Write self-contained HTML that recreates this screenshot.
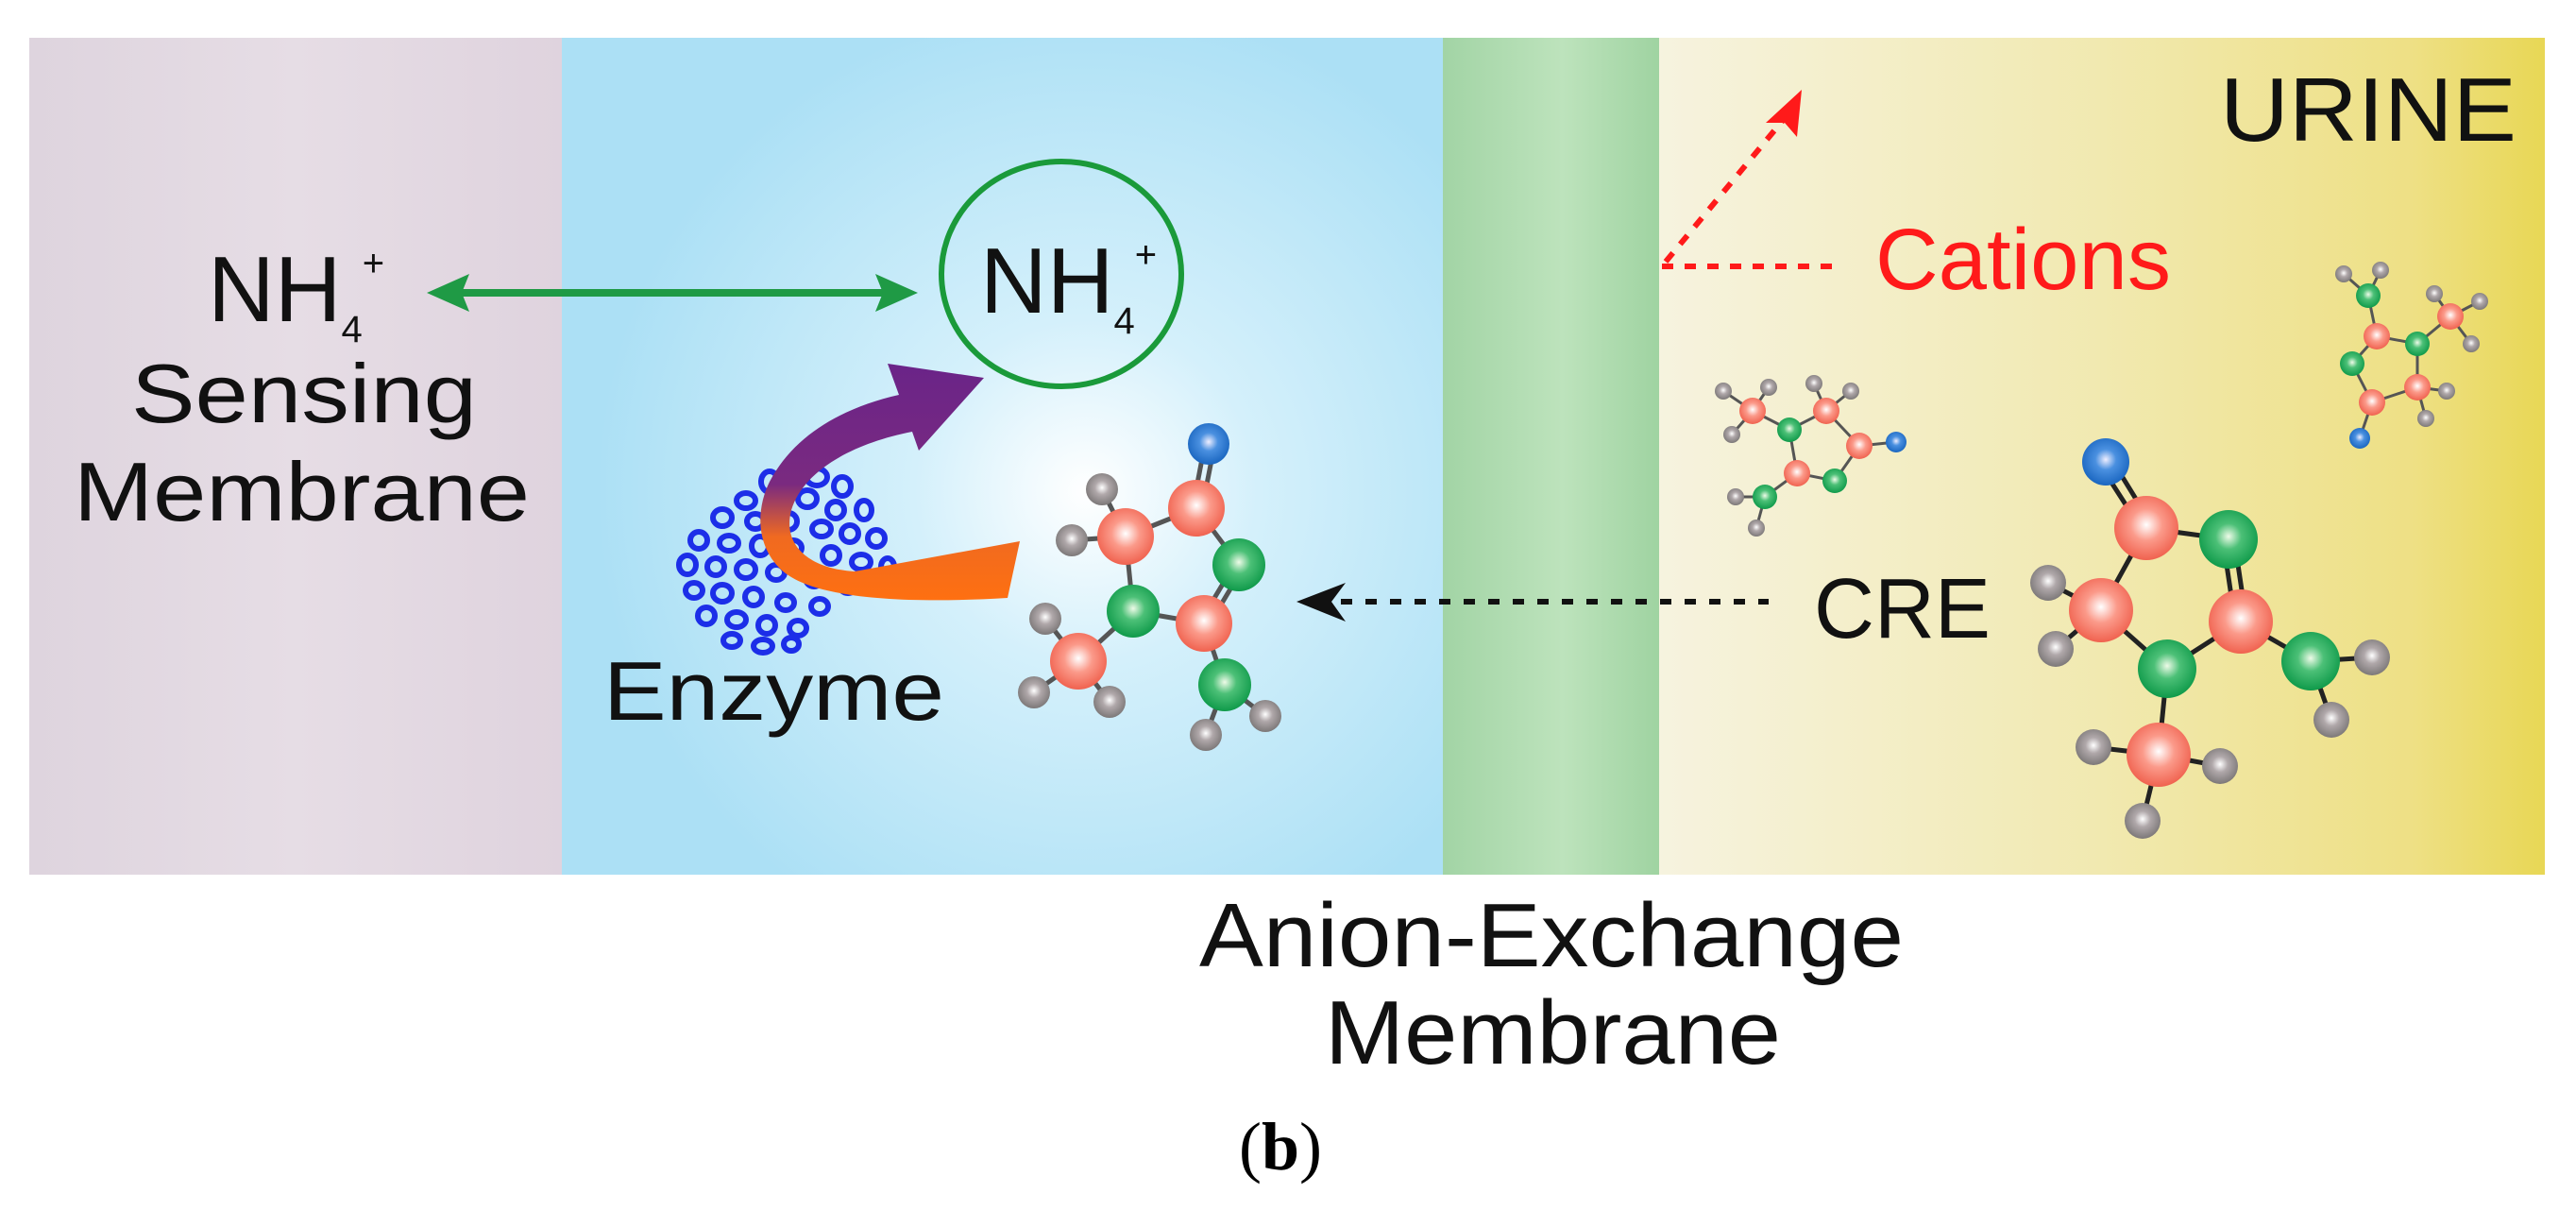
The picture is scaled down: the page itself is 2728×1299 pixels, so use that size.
<!DOCTYPE html>
<html><head><meta charset="utf-8"><style>html,body{margin:0;padding:0;background:#fff}svg{display:block}</style></head>
<body>
<svg xmlns="http://www.w3.org/2000/svg" width="2728" height="1299" viewBox="0 0 2728 1299">
<defs>
<linearGradient id="purp" x1="0" y1="0" x2="1" y2="0"><stop offset="0" stop-color="#ded4de"/><stop offset="0.5" stop-color="#e6dde5"/><stop offset="1" stop-color="#dfd3de"/></linearGradient>
<radialGradient id="blue" cx="1150" cy="520" r="520" gradientUnits="userSpaceOnUse"><stop offset="0" stop-color="#ffffff"/><stop offset="0.35" stop-color="#d4f0fb"/><stop offset="1" stop-color="#ace0f5"/></radialGradient>
<linearGradient id="grn" x1="0" y1="0" x2="1" y2="0"><stop offset="0" stop-color="#a2d4a5"/><stop offset="0.55" stop-color="#bde3bc"/><stop offset="1" stop-color="#9fd3a1"/></linearGradient>
<linearGradient id="yel" x1="0" y1="0" x2="1" y2="0"><stop offset="0" stop-color="#f6f3df"/><stop offset="0.5" stop-color="#f1e9b0"/><stop offset="0.85" stop-color="#eee085"/><stop offset="1" stop-color="#e8d755"/></linearGradient>
<linearGradient id="arr" x1="0" y1="385" x2="0" y2="640" gradientUnits="userSpaceOnUse"><stop offset="0" stop-color="#6a2488"/><stop offset="0.5" stop-color="#7a2a80"/><stop offset="0.72" stop-color="#f06a20"/><stop offset="1" stop-color="#ff7010"/></linearGradient>
<radialGradient id="aR" cx="0.5" cy="0.45" r="0.55"><stop offset="0" stop-color="#fff"/><stop offset="0.45" stop-color="#fb9a8a"/><stop offset="1" stop-color="#f0624f"/></radialGradient>
<radialGradient id="aG" cx="0.5" cy="0.45" r="0.55"><stop offset="0" stop-color="#eefbe8"/><stop offset="0.4" stop-color="#4cc077"/><stop offset="1" stop-color="#0f9a4a"/></radialGradient>
<radialGradient id="aK" cx="0.5" cy="0.45" r="0.55"><stop offset="0" stop-color="#fff"/><stop offset="0.4" stop-color="#b0a8aa"/><stop offset="1" stop-color="#7c7878"/></radialGradient>
<radialGradient id="aB" cx="0.5" cy="0.45" r="0.55"><stop offset="0" stop-color="#eef"/><stop offset="0.4" stop-color="#4a90e0"/><stop offset="1" stop-color="#1a66c0"/></radialGradient>
</defs>

<rect x="31" y="40" width="564" height="886" fill="url(#purp)"/>
<rect x="595" y="40" width="935" height="886" fill="url(#blue)"/>
<rect x="1528" y="40" width="230" height="886" fill="url(#grn)"/>
<rect x="1757" y="40" width="938" height="886" fill="url(#yel)"/>

<g font-family="Liberation Sans, sans-serif" fill="#111">
<text x="220" y="340" font-size="98">NH<tspan font-size="40" dy="22">4</tspan><tspan font-size="40" dy="-70">+</tspan></text>
<text x="139" y="447" font-size="88" textLength="366" lengthAdjust="spacingAndGlyphs">Sensing</text>
<text x="78" y="551" font-size="88" textLength="483" lengthAdjust="spacingAndGlyphs">Membrane</text>
<text x="1038" y="331" font-size="98">NH<tspan font-size="40" dy="22">4</tspan><tspan font-size="40" dy="-70">+</tspan></text>
<text x="639" y="762" font-size="88" textLength="361" lengthAdjust="spacingAndGlyphs">Enzyme</text>
<text x="2351" y="149" font-size="96" textLength="314" lengthAdjust="spacingAndGlyphs">URINE</text>
<text x="1921" y="675" font-size="90" textLength="187" lengthAdjust="spacingAndGlyphs">CRE</text>
<text x="1986" y="306" font-size="92" fill="#ff1a1a" textLength="313" lengthAdjust="spacingAndGlyphs">Cations</text>
<text x="1270" y="1023" font-size="96" textLength="746" lengthAdjust="spacingAndGlyphs">Anion-Exchange</text>
<text x="1403" y="1126" font-size="96" textLength="483" lengthAdjust="spacingAndGlyphs">Membrane</text>
</g>
<text x="1312" y="1238" font-family="Liberation Serif, serif" font-size="72" fill="#000">(<tspan font-weight="bold">b</tspan>)</text>

<line x1="485" y1="310" x2="935" y2="310" stroke="#1f9a45" stroke-width="8"/>
<polygon points="452,310 497,290 489,310 497,330" fill="#1f9a45"/>
<polygon points="972,310 927,290 935,310 927,330" fill="#1f9a45"/>
<ellipse cx="1124" cy="290" rx="127" ry="119" fill="none" stroke="#1a9a3a" stroke-width="6"/>

<!-- enzyme scribble -->
<g fill="none" stroke="#1c2ee8" stroke-width="6">
<ellipse cx="840" cy="495" rx="10" ry="8"/><ellipse cx="815" cy="510" rx="9" ry="11"/><ellipse cx="865" cy="505" rx="11" ry="9"/><ellipse cx="892" cy="515" rx="9" ry="10"/>
<ellipse cx="790" cy="530" rx="10" ry="8"/><ellipse cx="825" cy="530" rx="9" ry="8"/><ellipse cx="855" cy="528" rx="10" ry="9"/><ellipse cx="885" cy="540" rx="9" ry="9"/><ellipse cx="915" cy="540" rx="8" ry="10"/>
<ellipse cx="765" cy="548" rx="10" ry="9"/><ellipse cx="800" cy="552" rx="9" ry="8"/><ellipse cx="835" cy="552" rx="9" ry="9"/><ellipse cx="870" cy="560" rx="10" ry="8"/><ellipse cx="900" cy="565" rx="9" ry="9"/><ellipse cx="928" cy="570" rx="9" ry="9"/>
<ellipse cx="740" cy="572" rx="9" ry="9"/><ellipse cx="772" cy="575" rx="10" ry="8"/><ellipse cx="805" cy="578" rx="9" ry="10"/><ellipse cx="840" cy="580" rx="9" ry="8"/><ellipse cx="880" cy="588" rx="9" ry="9"/><ellipse cx="912" cy="595" rx="10" ry="8"/><ellipse cx="940" cy="600" rx="7" ry="9"/>
<ellipse cx="728" cy="598" rx="9" ry="10"/><ellipse cx="758" cy="600" rx="9" ry="9"/><ellipse cx="790" cy="603" rx="10" ry="9"/><ellipse cx="822" cy="606" rx="9" ry="8"/><ellipse cx="862" cy="612" rx="9" ry="9"/><ellipse cx="898" cy="620" rx="9" ry="8"/>
<ellipse cx="735" cy="625" rx="9" ry="8"/><ellipse cx="765" cy="628" rx="10" ry="9"/><ellipse cx="798" cy="632" rx="9" ry="9"/><ellipse cx="832" cy="638" rx="9" ry="8"/><ellipse cx="868" cy="642" rx="9" ry="8"/>
<ellipse cx="748" cy="652" rx="9" ry="9"/><ellipse cx="780" cy="656" rx="10" ry="8"/><ellipse cx="812" cy="662" rx="9" ry="9"/><ellipse cx="845" cy="665" rx="9" ry="8"/>
<ellipse cx="775" cy="678" rx="9" ry="7"/><ellipse cx="808" cy="684" rx="10" ry="7"/><ellipse cx="838" cy="682" rx="8" ry="7"/>
</g>
<path d="M940,385 L1042,400 L973,477 L966,457 C900,470 850,500 838,540 C828,578 858,602 905,605 L1080,573 L1067,633 C950,640 865,632 832,607 C800,582 800,540 815,510 C840,462 890,432 952,418 Z" fill="url(#arr)"/>

<line x1="1420" y1="637" x2="1873" y2="637" stroke="#111" stroke-width="6" stroke-dasharray="12,14"/>
<polygon points="1373,637 1425,617 1410,637 1425,658" fill="#111"/>
<line x1="1760" y1="282" x2="1951" y2="282" stroke="#ff1a1a" stroke-width="6" stroke-dasharray="12,12"/>
<line x1="1764" y1="277" x2="1890" y2="125" stroke="#ff1a1a" stroke-width="6" stroke-dasharray="12,12"/>
<polygon points="1908,95 1903,145 1890,130 1870,130" fill="#ff1a1a"/>

<g stroke="#555" stroke-width="5">
<line x1="1276" y1="470" x2="1263" y2="538"/><line x1="1286" y1="472" x2="1273" y2="538"/>
<line x1="1267" y1="538" x2="1192" y2="568"/><line x1="1192" y1="568" x2="1167" y2="518"/><line x1="1192" y1="568" x2="1135" y2="572"/>
<line x1="1267" y1="538" x2="1312" y2="598"/><line x1="1192" y1="568" x2="1200" y2="647"/>
<line x1="1307" y1="598" x2="1270" y2="660"/><line x1="1317" y1="600" x2="1280" y2="662"/>
<line x1="1200" y1="647" x2="1275" y2="660"/><line x1="1200" y1="647" x2="1142" y2="700"/>
<line x1="1142" y1="700" x2="1107" y2="655"/><line x1="1142" y1="700" x2="1095" y2="733"/><line x1="1142" y1="700" x2="1175" y2="743"/>
<line x1="1275" y1="660" x2="1297" y2="725"/><line x1="1297" y1="725" x2="1277" y2="778"/><line x1="1297" y1="725" x2="1340" y2="758"/>
</g>
<g>
<circle cx="1280" cy="470" r="22" fill="url(#aB)"/>
<circle cx="1167" cy="518" r="17" fill="url(#aK)"/><circle cx="1135" cy="572" r="17" fill="url(#aK)"/>
<circle cx="1107" cy="655" r="17" fill="url(#aK)"/><circle cx="1095" cy="733" r="17" fill="url(#aK)"/><circle cx="1175" cy="743" r="17" fill="url(#aK)"/>
<circle cx="1277" cy="778" r="17" fill="url(#aK)"/><circle cx="1340" cy="758" r="17" fill="url(#aK)"/>
<circle cx="1267" cy="538" r="30" fill="url(#aR)"/><circle cx="1192" cy="568" r="30" fill="url(#aR)"/>
<circle cx="1275" cy="660" r="30" fill="url(#aR)"/><circle cx="1142" cy="700" r="30" fill="url(#aR)"/>
<circle cx="1312" cy="598" r="28" fill="url(#aG)"/><circle cx="1200" cy="647" r="28" fill="url(#aG)"/><circle cx="1297" cy="725" r="28" fill="url(#aG)"/>
</g>

<g stroke="#222" stroke-width="5">
<line x1="2224" y1="492" x2="2267" y2="559"/><line x1="2236" y1="486" x2="2279" y2="556"/>
<line x1="2273" y1="559" x2="2360" y2="571"/><line x1="2273" y1="559" x2="2225" y2="646"/>
<line x1="2354" y1="571" x2="2367" y2="658"/><line x1="2366" y1="571" x2="2379" y2="658"/>
<line x1="2225" y1="646" x2="2295" y2="708"/><line x1="2295" y1="708" x2="2373" y2="658"/>
<line x1="2373" y1="658" x2="2447" y2="700"/><line x1="2295" y1="708" x2="2286" y2="799"/>
<line x1="2225" y1="646" x2="2169" y2="617"/><line x1="2225" y1="646" x2="2177" y2="687"/>
<line x1="2447" y1="700" x2="2512" y2="696"/><line x1="2447" y1="700" x2="2469" y2="762"/>
<line x1="2286" y1="799" x2="2217" y2="791"/><line x1="2286" y1="799" x2="2351" y2="811"/><line x1="2286" y1="799" x2="2269" y2="869"/>
</g>
<g>
<circle cx="2230" cy="489" r="25" fill="url(#aB)"/>
<circle cx="2169" cy="617" r="19" fill="url(#aK)"/><circle cx="2177" cy="687" r="19" fill="url(#aK)"/>
<circle cx="2512" cy="696" r="19" fill="url(#aK)"/><circle cx="2469" cy="762" r="19" fill="url(#aK)"/>
<circle cx="2217" cy="791" r="19" fill="url(#aK)"/><circle cx="2351" cy="811" r="19" fill="url(#aK)"/><circle cx="2269" cy="869" r="19" fill="url(#aK)"/>
<circle cx="2273" cy="559" r="34" fill="url(#aR)"/><circle cx="2225" cy="646" r="34" fill="url(#aR)"/>
<circle cx="2373" cy="658" r="34" fill="url(#aR)"/><circle cx="2286" cy="799" r="34" fill="url(#aR)"/>
<circle cx="2360" cy="571" r="31" fill="url(#aG)"/><circle cx="2295" cy="708" r="31" fill="url(#aG)"/><circle cx="2447" cy="700" r="31" fill="url(#aG)"/>
</g>

<g stroke="#555" stroke-width="3">
<line x1="1856" y1="435" x2="1895" y2="455"/><line x1="1895" y1="455" x2="1934" y2="435"/><line x1="1934" y1="435" x2="1969" y2="472"/>
<line x1="1969" y1="472" x2="1943" y2="509"/><line x1="1943" y1="509" x2="1903" y2="501"/><line x1="1903" y1="501" x2="1895" y2="455"/>
<line x1="1903" y1="501" x2="1869" y2="526"/><line x1="1969" y1="472" x2="2008" y2="468"/>
<line x1="1856" y1="435" x2="1825" y2="414"/><line x1="1856" y1="435" x2="1873" y2="410"/><line x1="1856" y1="435" x2="1834" y2="460"/>
<line x1="1934" y1="435" x2="1921" y2="406"/><line x1="1934" y1="435" x2="1960" y2="414"/>
<line x1="1869" y1="526" x2="1838" y2="526"/><line x1="1869" y1="526" x2="1860" y2="559"/>
</g>
<g>
<circle cx="1825" cy="414" r="9" fill="url(#aK)"/><circle cx="1873" cy="410" r="9" fill="url(#aK)"/><circle cx="1921" cy="406" r="9" fill="url(#aK)"/>
<circle cx="1960" cy="414" r="9" fill="url(#aK)"/><circle cx="1834" cy="460" r="9" fill="url(#aK)"/><circle cx="1838" cy="526" r="9" fill="url(#aK)"/><circle cx="1860" cy="559" r="9" fill="url(#aK)"/>
<circle cx="1856" cy="435" r="14" fill="url(#aR)"/><circle cx="1934" cy="435" r="14" fill="url(#aR)"/><circle cx="1969" cy="472" r="14" fill="url(#aR)"/><circle cx="1903" cy="501" r="14" fill="url(#aR)"/>
<circle cx="1895" cy="455" r="13" fill="url(#aG)"/><circle cx="1943" cy="509" r="13" fill="url(#aG)"/><circle cx="1869" cy="526" r="13" fill="url(#aG)"/>
<circle cx="2008" cy="468" r="11" fill="url(#aB)"/>
</g>

<g stroke="#555" stroke-width="3">
<line x1="2508" y1="313" x2="2517" y2="356"/><line x1="2517" y1="356" x2="2560" y2="364"/><line x1="2560" y1="364" x2="2595" y2="335"/>
<line x1="2560" y1="364" x2="2560" y2="410"/><line x1="2560" y1="410" x2="2512" y2="426"/><line x1="2512" y1="426" x2="2491" y2="385"/>
<line x1="2491" y1="385" x2="2517" y2="356"/><line x1="2512" y1="426" x2="2499" y2="464"/>
<line x1="2508" y1="313" x2="2482" y2="290"/><line x1="2508" y1="313" x2="2521" y2="286"/>
<line x1="2595" y1="335" x2="2578" y2="311"/><line x1="2595" y1="335" x2="2626" y2="319"/><line x1="2595" y1="335" x2="2617" y2="364"/>
<line x1="2560" y1="410" x2="2591" y2="414"/><line x1="2560" y1="410" x2="2569" y2="443"/>
</g>
<g>
<circle cx="2482" cy="290" r="9" fill="url(#aK)"/><circle cx="2521" cy="286" r="9" fill="url(#aK)"/><circle cx="2578" cy="311" r="9" fill="url(#aK)"/>
<circle cx="2626" cy="319" r="9" fill="url(#aK)"/><circle cx="2617" cy="364" r="9" fill="url(#aK)"/><circle cx="2591" cy="414" r="9" fill="url(#aK)"/><circle cx="2569" cy="443" r="9" fill="url(#aK)"/>
<circle cx="2517" cy="356" r="14" fill="url(#aR)"/><circle cx="2595" cy="335" r="14" fill="url(#aR)"/><circle cx="2560" cy="410" r="14" fill="url(#aR)"/><circle cx="2512" cy="426" r="14" fill="url(#aR)"/>
<circle cx="2508" cy="313" r="13" fill="url(#aG)"/><circle cx="2560" cy="364" r="13" fill="url(#aG)"/><circle cx="2491" cy="385" r="13" fill="url(#aG)"/>
<circle cx="2499" cy="464" r="11" fill="url(#aB)"/>
</g>
</svg>
</body></html>
